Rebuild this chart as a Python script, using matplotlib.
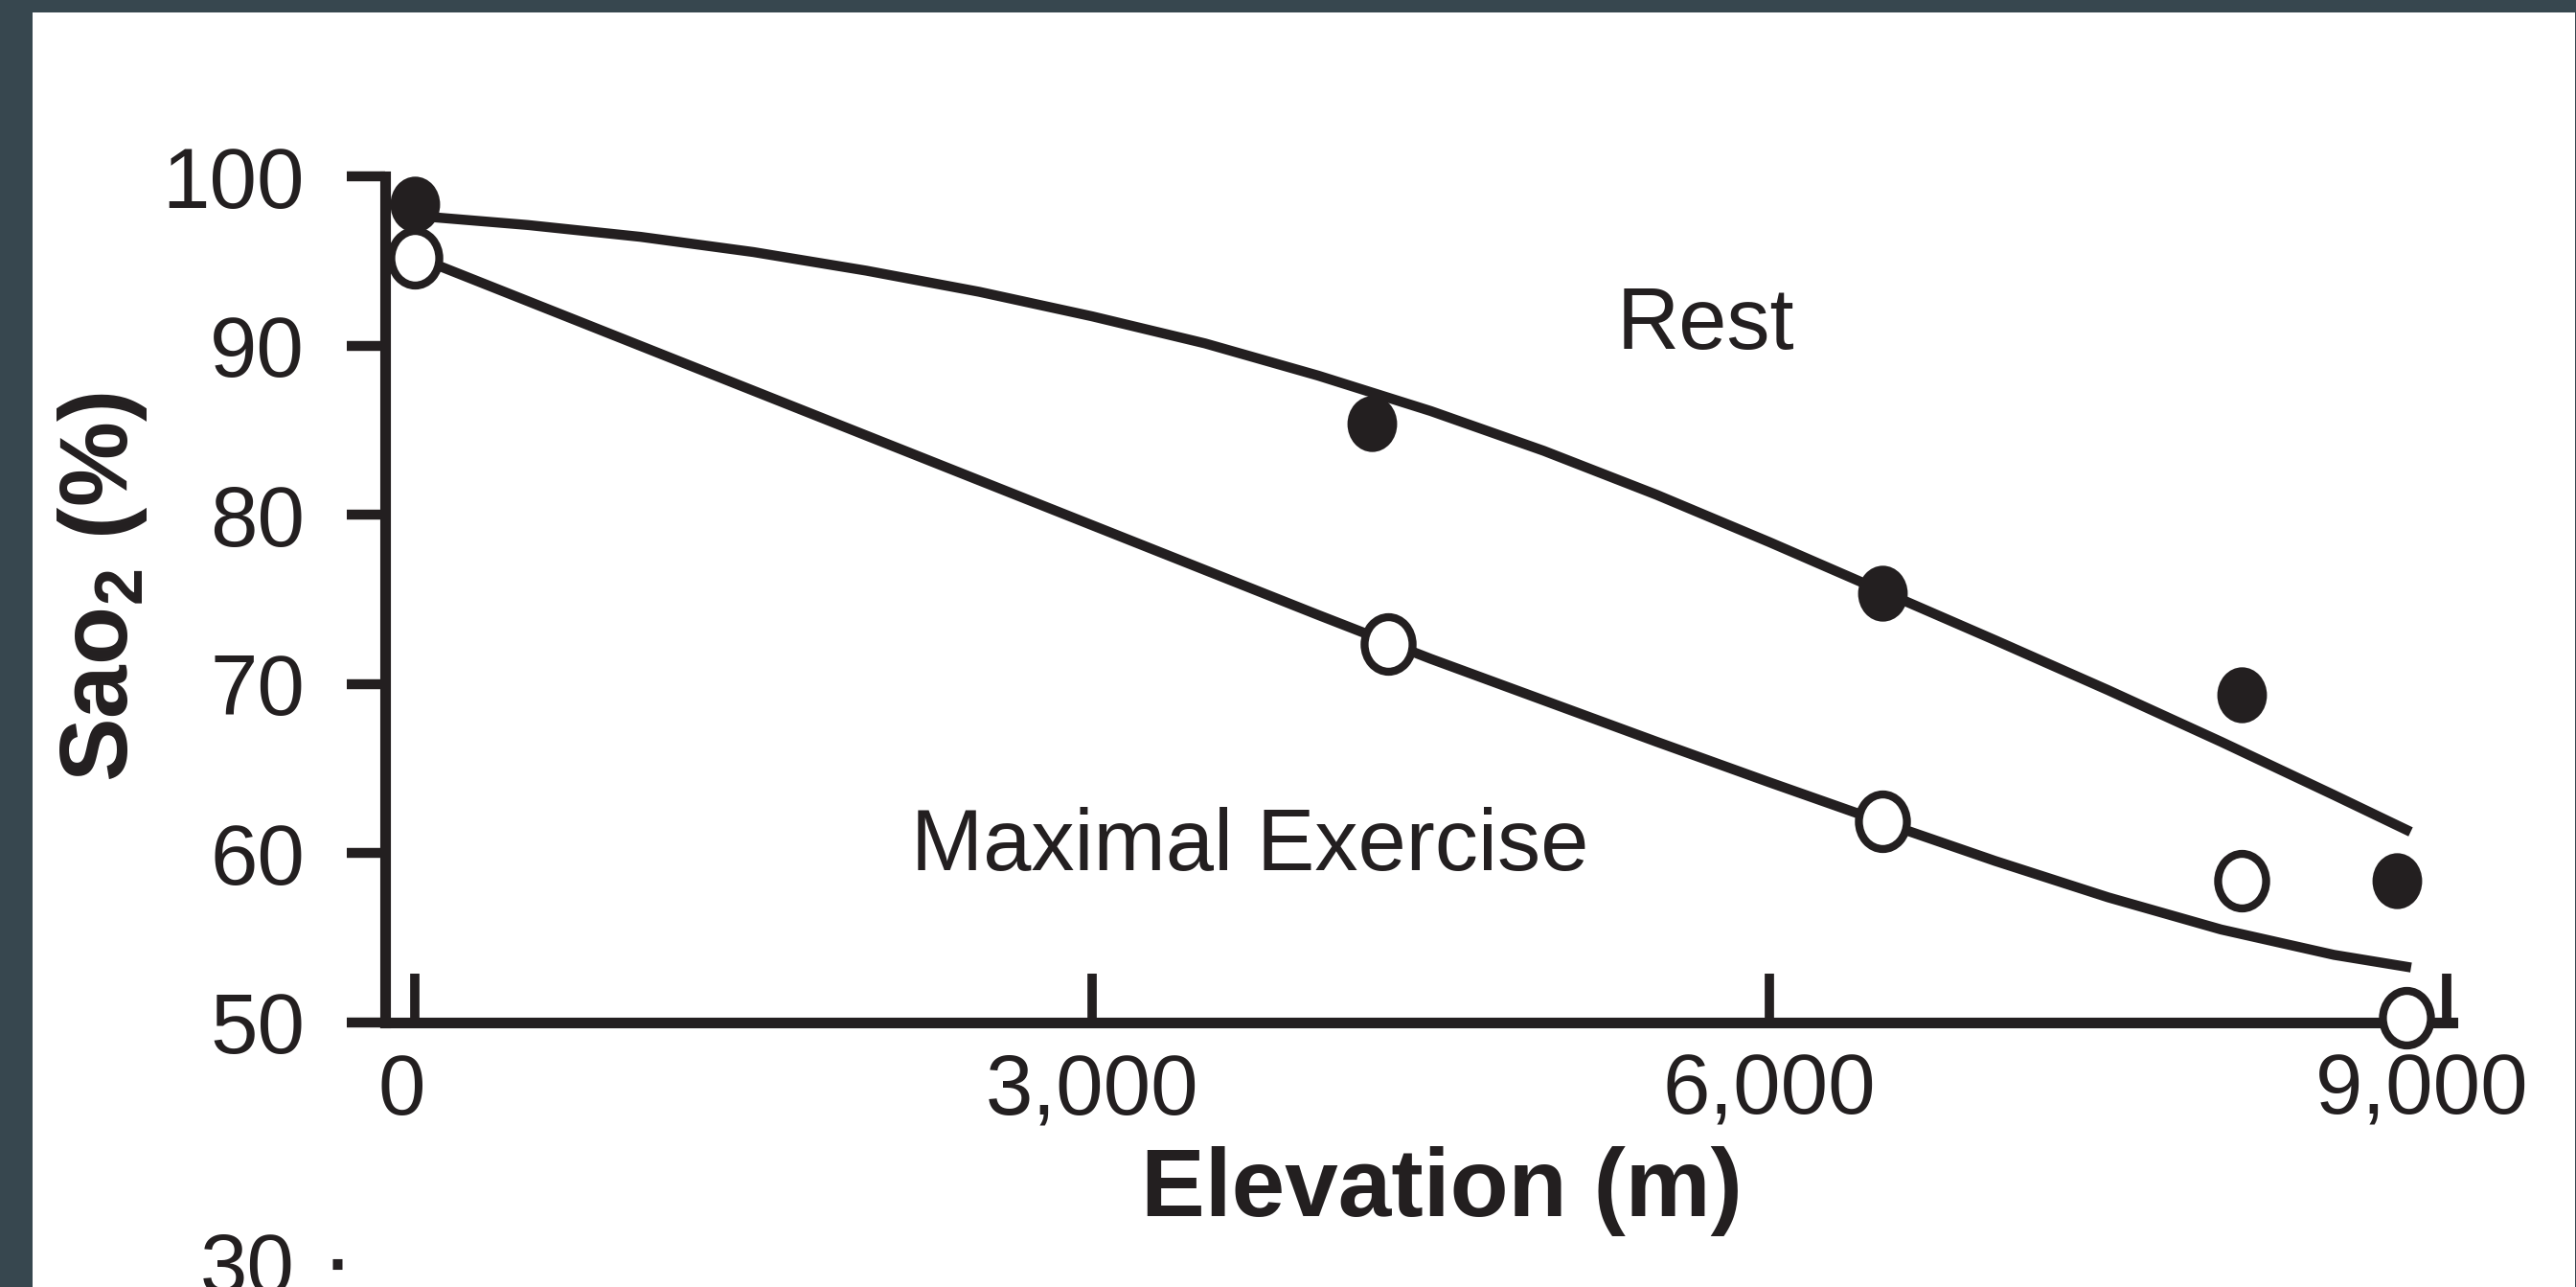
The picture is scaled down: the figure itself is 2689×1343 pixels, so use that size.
import matplotlib
matplotlib.use("Agg")
import matplotlib.pyplot as plt
from matplotlib.lines import Line2D
from matplotlib.patches import Rectangle
from matplotlib.path import Path
from matplotlib.transforms import Affine2D, ScaledTranslation

plt.rcParams["font.family"] = ["Liberation Sans", "DejaVu Sans"]
plt.rcParams["mathtext.fontset"] = "custom"
plt.rcParams["mathtext.rm"] = "Liberation Sans"
plt.rcParams["mathtext.bf"] = "Liberation Sans:bold"

INK = "#231f20"
FRAME = "#37474f"

rest_elev = [0, 4240, 6500, 8090, 8780]
rest_sao2 = [98.4, 85.4, 75.4, 69.4, 58.4]
exercise_elev = [0, 4310, 6500, 8090, 8820]
exercise_sao2 = [95.2, 72.4, 61.9, 58.4, 50.3]

# fitted curves
curve_elev = [0, 500, 1000, 1500, 2000, 2500, 3000, 3500, 4000, 4500,
              5000, 5500, 6000, 6500, 7000, 7500, 8000, 8500, 8820]
rest_curve = [97.7, 97.15, 96.45, 95.55, 94.45, 93.2, 91.75, 90.15, 88.25, 86.15,
              83.8, 81.2, 78.4, 75.5, 72.6, 69.65, 66.6, 63.45, 61.4]
exercise_curve = [95.3, 92.65, 90.0, 87.35, 84.7, 82.05, 79.4, 76.75, 74.1, 71.5,
                  69.05, 66.6, 64.2, 61.85, 59.55, 57.4, 55.5, 54.0, 53.3]

x_ticks = [0, 3000, 6000, 9000]
x_tick_labels = ["0", "3,000", "6,000", "9,000"]
y_ticks = [50, 60, 70, 80, 90, 100]

W, H = 2689, 1343
fig = plt.figure(figsize=(W / 100, H / 100), dpi=100, facecolor=FRAME)
fig.add_artist(Rectangle((34 / W, 0), (2688 - 34) / W, (H - 13) / H,
                         transform=fig.transFigure, facecolor="white",
                         edgecolor="none", zorder=0))

ax = fig.add_axes([401.5 / W, 276 / H, (2560 - 401.5) / W, 882.5 / H])
ax.set_xlim(-134, 9025)
ax.set_ylim(50, 100)
ax.set_facecolor("white")

for side in ("top", "right"):
    ax.spines[side].set_visible(False)
for side in ("left", "bottom"):
    ax.spines[side].set_linewidth(8)
    ax.spines[side].set_color(INK)

# slightly tall ellipse marker, as in the scan
ell = Path.unit_circle().transformed(Affine2D().scale(0.88, 1.0))

ax.plot(curve_elev, rest_curve, color=INK, lw=7.5, zorder=3)
ax.plot(curve_elev, exercise_curve, color=INK, lw=7.5, zorder=3)
ax.plot(rest_elev, rest_sao2, ls="none", marker=ell, ms=39, mfc=INK, mec=INK,
        mew=3, clip_on=False, zorder=5)
ax.plot(exercise_elev, exercise_sao2, ls="none", marker=ell, ms=41,
        mfc="white", mec=INK, mew=6, clip_on=False, zorder=5)

ax.text(5717, 89.84, "Rest", ha="center", va="baseline", fontsize=65, color=INK)
ax.text(3700, 59.0, "Maximal Exercise", ha="center", va="baseline",
        fontsize=65, color=INK)

ax.set_xticks(x_ticks, labels=x_tick_labels)
ax.set_yticks(y_ticks)
ax.tick_params(axis="x", direction="in", length=37, width=7, pad=22,
               labelsize=64, colors=INK)
ax.tick_params(axis="y", direction="out", length=29, width=7.5, pad=31,
               labelsize=64, colors=INK)

# the end labels sit a little left of their ticks in the original
xlabels = ax.get_xticklabels()
xlabels[0].set_transform(xlabels[0].get_transform()
                         + ScaledTranslation(-0.14, 0, fig.dpi_scale_trans))
xlabels[-1].set_transform(xlabels[-1].get_transform()
                          + ScaledTranslation(-0.26, 0, fig.dpi_scale_trans))

ax.set_xlabel("Elevation (m)", fontsize=72, fontweight="bold", color=INK)
ax.xaxis.set_label_coords(0.511, -0.146)
ax.set_ylabel(r"Sao$_\mathbf{2}$ (%)", fontsize=72, fontweight="bold", color=INK)
ax.yaxis.set_label_coords(-0.1137, 0.515)

# cut-off tick label of the panel below
fig.text(308 / W, 58 / H, "30", ha="right", va="top", fontsize=64, color=INK)
fig.add_artist(Line2D([347 / W, 357 / W], [(H - 1319) / H, (H - 1319) / H],
                      transform=fig.transFigure, color=INK, lw=8,
                      solid_capstyle="butt"))

fig.savefig("out.png", dpi=100, facecolor=FRAME)
